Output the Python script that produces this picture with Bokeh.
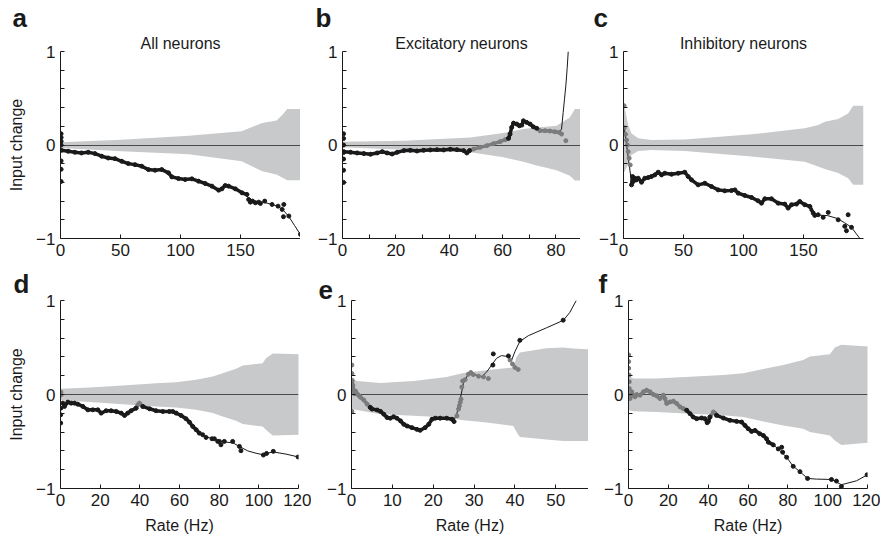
import math
from bokeh.plotting import figure
from bokeh.models import Range1d, FixedTicker, Title
from bokeh.layouts import column, row
from bokeh.embed import file_html
from bokeh.resources import INLINE

FONT = "Liberation Sans"
BAND = "#c8c9cb"
BLACK = "#1a1a1a"
GRAY = "#7c7c7c"
ZERO = "#4a4a4a"
NAN = float("nan")

Y_MAJOR = [-1, 0, 1]
Y_MINOR = [-0.8, -0.6, -0.4, -0.2, 0.2, 0.4, 0.6, 0.8]

# ---------------- panel a : All neurons ----------------
A_BAND_X = [0, 51, 107, 151, 157, 168, 180, 185, 189, 200]
A_BAND_HI = [0.03, 0.057, 0.1, 0.146, 0.18, 0.234, 0.263, 0.323, 0.384, 0.384]
A_BAND_LO = [-0.032, -0.067, -0.1, -0.174, -0.21, -0.28, -0.316, -0.35, -0.376, -0.376]
A_BLACK_X = [0.8, 6.4, 12, 17.5, 23.1, 28.7, 34.3, 39.8, 45.4, 51, 56.5, 62.1, 67.7, 73.3, 78.8,
             84.4, 90, 92.8, 98.3, 103.9, 109.5, 115, 120.6, 126.2, 131.8, 134.5, 137.3, 140.1,
             145.7, 151.3, 155.4]
A_BLACK_Y = [-0.057, -0.067, -0.078, -0.085, -0.078, -0.092, -0.12, -0.139, -0.146, -0.174, -0.199,
             -0.21, -0.227, -0.263, -0.27, -0.263, -0.298, -0.341, -0.359, -0.369, -0.362, -0.387,
             -0.412, -0.44, -0.483, -0.469, -0.433, -0.44, -0.469, -0.512, -0.529]
A_GRAY_X = []
A_GRAY_Y = []
A_DOT_X = [0.5, 0.5, 0.5, 0.5, 0.5, 0.5, 0.5, 156.8, 158.2, 160, 162.4, 165.2, 166.6, 170.2, 176.3,
           181.3, 184.7, 186.1, 185.8, 190.3, 200]
A_DOT_Y = [0.12, 0.08, 0.04, 0.0, -0.17, -0.26, -0.39, -0.583, -0.611, -0.6, -0.618, -0.611, -0.625,
           -0.6, -0.636, -0.654, -0.689, -0.636, -0.767, -0.76, -0.956]
A_GDOT_X = []
A_GDOT_Y = []
A_FIT_X = [155, 160, 165, 170, 176, 181, 185, 190, 195, 200]
A_FIT_Y = [-0.55, -0.59, -0.61, -0.615, -0.635, -0.655, -0.69, -0.76, -0.86, -0.96]

# ---------------- panel b : Excitatory neurons ----------------
B_BAND_X = [0, 23, 47.9, 60.3, 67.8, 72.8, 80.2, 85.2, 87.1, 89.5]
B_BAND_HI = [0.036, 0.046, 0.08, 0.128, 0.17, 0.188, 0.206, 0.295, 0.384, 0.384]
B_BAND_LO = [-0.025, -0.05, -0.078, -0.13, -0.178, -0.22, -0.27, -0.33, -0.38, -0.38]
B_BLACK_X = [0.5, 3, 5.5, 8, 10.5, 13, 14.9, 16.7, 18.6, 20.5, 23, 25.4, 27.9, 30.4, 32.9, 35.4,
             37.9, 40.4, 42.9, 45.4, 46.6, 47.6, NAN,
             62.2, 62.8, 63.4, 64.1, 65.3, 66.3, 67.2, 67.8, 69, 70.3, 71.5, 72.8]
B_BLACK_Y = [-0.071, -0.078, -0.085, -0.092, -0.099, -0.085, -0.071, -0.085, -0.096, -0.078, -0.06,
             -0.057, -0.064, -0.057, -0.053, -0.05, -0.053, -0.046, -0.05, -0.06, -0.085, -0.06, NAN,
             0.071, 0.117, 0.188, 0.234, 0.224, 0.206, 0.213, 0.259, 0.242, 0.224, 0.195, 0.178]
B_GRAY_X = [47.6, 49.1, 51.6, 54.1, 56.6, 59.1, 61, 62.2, NAN, 74, 75.9, 77.7, 79.6, 81.2]
B_GRAY_Y = [-0.06, -0.043, -0.025, -0.007, 0.014, 0.036, 0.057, 0.071, NAN, 0.153, 0.153, 0.149,
            0.142, 0.135]
B_DOT_X = [0.4, 0.4, 0.4, 0.4, 0.4, 0.4, 0.4]
B_DOT_Y = [0.12, 0.07, 0.0, -0.08, -0.15, -0.27, -0.4]
B_GDOT_X = [82.1, 83.7]
B_GDOT_Y = [0.117, 0.046]
B_FIT_X = [72.8, 76, 79.6, 81.2, 82.1, 82.7, 83.2, 83.7, 84.2, 84.6]
B_FIT_Y = [0.178, 0.155, 0.142, 0.135, 0.17, 0.348, 0.49, 0.632, 0.82, 1.0]

# ---------------- panel c : Inhibitory neurons ----------------
C_BAND_X = [0, 1.1, 3.9, 6.7, 12.2, 23.3, 51.1, 106.7, 151.1, 162.2, 167.8, 178.9, 187.2, 191.4, 200]
C_BAND_HI = [0.44, 0.39, 0.21, 0.124, 0.071, 0.053, 0.06, 0.114, 0.178, 0.213, 0.249, 0.277, 0.337,
             0.42, 0.42]
C_BAND_LO = [-0.3, -0.28, -0.2, -0.107, -0.064, -0.053, -0.064, -0.124, -0.178, -0.23, -0.256, -0.3,
             -0.355, -0.426, -0.426]
C_BLACK_X = [6.7, 7.5, 8.1, 9.4, 10.8, 12.2, 15, 17.8, 20.6, 23.3, 26.1, 28.9, 31.7, 34.4, 40, 45.6,
             51.1, 53.9, 56.7, 62.2, 67.8, 73.3, 78.9, 84.4, 90, 92.8, 95.6, 101.1, 106.7, 112.2, 115,
             117.8, 123.3, 128.9, 134.4, 137.2, 140, 144.2, 146.9, 151.1, 155.3, 158.1]
C_BLACK_Y = [-0.426, -0.337, -0.391, -0.355, -0.373, -0.355, -0.398, -0.355, -0.348, -0.337, -0.32,
             -0.291, -0.32, -0.302, -0.313, -0.302, -0.291, -0.337, -0.373, -0.426, -0.409, -0.444,
             -0.48, -0.49, -0.487, -0.48, -0.515, -0.54, -0.561, -0.597, -0.622, -0.575, -0.575,
             -0.622, -0.632, -0.675, -0.639, -0.632, -0.604, -0.639, -0.657, -0.728]
C_GRAY_X = []
C_GRAY_Y = []
C_DOT_X = [159.4, 162.2, 166.4, 170.6, 178.9, 184.4, 185.8, 187.2, 190]
C_DOT_Y = [-0.753, -0.746, -0.774, -0.721, -0.8, -0.87, -0.917, -0.746, -0.881]
C_GDOT_X = [0.5, 0.6, 1.7, 2.5, 3.3, 3.9, 4.7, 5.6]
C_GDOT_Y = [0.42, 0.185, 0.114, 0.053, 0.0, -0.071, -0.142, -0.213]
C_FIT_X = [0.5, 6.7, NAN, 155, 162, 170, 178, 184, 190, 194, 197]
C_FIT_Y = [0.2, -0.4, NAN, -0.7, -0.75, -0.755, -0.785, -0.83, -0.88, -0.95, -1.0]

# ---------------- panel d ----------------
D_BAND_X = [0, 14.6, 31.4, 48.2, 58.3, 68.4, 76.8, 81.8, 88.5, 91.9, 101.9, 103.6, 107, 120.4]
D_BAND_HI = [0.06, 0.074, 0.096, 0.12, 0.131, 0.156, 0.191, 0.227, 0.273, 0.308, 0.333, 0.386,
             0.435, 0.428]
D_BAND_LO = [-0.06, -0.081, -0.103, -0.127, -0.138, -0.163, -0.198, -0.234, -0.28, -0.315, -0.34,
             -0.375, -0.435, -0.428]
D_BLACK_X = [1.2, 2, 3.7, 5.4, 7.1, 8.7, 11.3, 13.8, 16.3, 18.8, 20.5, 23, 25.5, 28.1, 30.6, 32.3,
             33.9, 35.6, 38.1, NAN, 41.5, 44.9, 48.2, 51.6, 54.9, 56.6, 58.3, 60.8, 63.3, 65, 66.7,
             68.4, 70]
D_BLACK_Y = [-0.092, -0.127, -0.081, -0.092, -0.092, -0.103, -0.127, -0.163, -0.163, -0.163, -0.198,
             -0.173, -0.173, -0.181, -0.198, -0.223, -0.198, -0.173, -0.145, NAN, -0.127, -0.152,
             -0.173, -0.181, -0.181, -0.181, -0.198, -0.223, -0.258, -0.294, -0.34, -0.375, -0.411]
D_GRAY_X = [38.1, 39.0, 39.8, 41.5]
D_GRAY_Y = [-0.145, -0.11, -0.092, -0.127]
D_DOT_X = [0.2, 0.1, 0.1, 71.7, 73.4, 76.4, 77.6, 79.3, 80.1, 80.9, 82.6, 86.8, 90.2, 91, 102.3,
           103.9, 107.3, 119.8]
D_DOT_Y = [-0.145, -0.216, -0.304, -0.428, -0.457, -0.471, -0.471, -0.499, -0.499, -0.535, -0.499,
           -0.499, -0.552, -0.598, -0.644, -0.627, -0.605, -0.665]
D_GDOT_X = [0.2, 0.3]
D_GDOT_Y = [0.025, -0.004]
D_FIT_X = [70, 73.4, 76.8, 80.1, 83, 87, 90, 94.4, 98.6, 102, 107, 113.7, 120]
D_FIT_Y = [-0.411, -0.45, -0.47, -0.495, -0.505, -0.515, -0.55, -0.6, -0.625, -0.64, -0.61, -0.634,
           -0.665]

# ---------------- panel e ----------------
E_BAND_X = [0, 1.4, 7.1, 15.2, 23.3, 27.4, 33.1, 39.6, 40.4, 41.2, 47.7, 51.8, 54.2, 58]
E_BAND_HI = [0.17, 0.144, 0.122, 0.144, 0.187, 0.23, 0.259, 0.288, 0.4, 0.446, 0.493, 0.5, 0.49, 0.482]
E_BAND_LO = [-0.155, -0.165, -0.209, -0.227, -0.245, -0.273, -0.299, -0.335, -0.4, -0.453, -0.478,
             -0.496, -0.496, -0.496]
E_BLACK_X = [4.6, 5, 6.3, 7.1, 7.9, 8.7, 9.5, 10.3, 11.1, 12, 12.8, 13.6, 14.8, 16, 16.8, 18, 18.9,
             19.7, 20.5, 21.7, 23.3, 24.6, 25.1]
E_BLACK_Y = [-0.137, -0.155, -0.165, -0.18, -0.209, -0.245, -0.252, -0.237, -0.252, -0.281, -0.317,
             -0.335, -0.353, -0.371, -0.381, -0.353, -0.317, -0.263, -0.252, -0.252, -0.252, -0.263,
             -0.288]
E_GRAY_X = [0.16, 0.33, 0.57, 0.73, 0.98, 1.4, 1.8, 2.2, 3, 3.8, 4.6]
E_GRAY_Y = [0.151, 0.097, 0.043, 0.007, 0.036, 0.007, -0.011, -0.029, -0.058, -0.101, -0.137]
E_DOT_X = [34.6, 34.7, 38.4, 41.2, 51.8]
E_DOT_Y = [0.313, 0.432, 0.41, 0.576, 0.791]
E_GDOT_X = [0.1, 0.1, 0.1, 25.8, 26.2, 26.4, 26.6, 26.8, 27, 27.2, 27.8, 28.6, 29.2, 29.8, 31.1,
            32.3, 33.5, 38.8, 39.4, 40, 40.8]
E_GDOT_Y = [0.313, 0.223, -0.18, -0.227, -0.155, -0.12, -0.083, -0.05, 0.079, 0.144, 0.158, 0.216,
            0.234, 0.212, 0.194, 0.187, 0.169, 0.367, 0.324, 0.288, 0.266]
E_FIT_X = [25.1, 25.8, 26.6, 27.4, 28.6, 30.2, 31.9, 33.1, 34.3, 35.5, 36.7, 38.4, 39.2, 40, 41.2,
           43.3, 47.7, 51.8, 53.4, 55]
E_FIT_Y = [-0.27, -0.2, -0.05, 0.12, 0.22, 0.21, 0.19, 0.241, 0.313, 0.385, 0.414, 0.403, 0.367,
           0.457, 0.565, 0.626, 0.709, 0.788, 0.871, 1.0]

# ---------------- panel f ----------------
F_BAND_X = [0, 2.4, 14.1, 30.9, 47.6, 57.6, 67.7, 77.7, 87.7, 91.1, 101.1, 103.6, 106.9, 120.3]
F_BAND_HI = [0.2, 0.171, 0.171, 0.189, 0.207, 0.225, 0.271, 0.314, 0.368, 0.404, 0.429, 0.5, 0.529,
             0.511]
F_BAND_LO = [-0.168, -0.179, -0.186, -0.204, -0.221, -0.239, -0.286, -0.329, -0.364, -0.4, -0.436,
             -0.489, -0.536, -0.514]
F_BLACK_X = [29.2, 30.9, 32.5, 34.2, 36.7, 38.4, 39.5, 40.1, 40.9, NAN, 44.2, 47.6, 50.9, 54.3, 56.8,
             58.5, 60.1, 61.8, 63.5, 65.9, 67.7, 69.3, 70.2, 72.7]
F_BLACK_Y = [-0.168, -0.204, -0.239, -0.257, -0.25, -0.257, -0.3, -0.286, -0.24, NAN, -0.221, -0.25,
             -0.275, -0.286, -0.293, -0.329, -0.364, -0.393, -0.382, -0.418, -0.436, -0.471, -0.507,
             -0.536]
F_GRAY_X = [0.8, 1.1, 1.6, 2.4, 3.3, 4.1, 5.8, 7.5, 9.1, 10.8, 12.5, 14.1, 15.8, 17.5, 18.3, 19.2,
            20.8, 22.5, 24.2, 25.9, 27.5, 29.2, NAN, 40.9, 42.6, 43.4, 44.2]
F_GRAY_Y = [-0.043, -0.007, 0.029, -0.007, -0.025, 0.0, -0.007, 0.029, 0.046, 0.029, 0.0, -0.014,
            -0.043, -0.007, -0.043, -0.096, -0.079, -0.071, -0.096, -0.132, -0.15, -0.168, NAN,
            -0.24, -0.186, -0.2, -0.221]
F_DOT_X = [75.2, 76.9, 77.4, 79.4, 82.7, 86.1, 89.9, 101.9, 104.4, 106.9, 119.8]
F_DOT_Y = [-0.579, -0.561, -0.614, -0.668, -0.764, -0.821, -0.893, -0.904, -0.921, -0.979, -0.854]
F_GDOT_X = [0.1, 0.1, 0.1, 0.3, 0.4, 0.4]
F_GDOT_Y = [0.421, 0.35, 0.279, 0.207, 0.136, 0.064]
F_FIT_X = [72.7, 75.2, 79.4, 82.7, 86.1, 89.9, 94.4, 101.9, 106.9, 114.5, 120]
F_FIT_Y = [-0.536, -0.579, -0.668, -0.764, -0.821, -0.893, -0.9, -0.904, -0.96, -0.918, -0.854]


def make_panel(width, height, xmax, bl, br, bt, bb, xticks, xminor):
    p = figure(width=width, height=height, x_range=Range1d(0, xmax), y_range=Range1d(-1, 1),
               output_backend="svg", toolbar_location=None, title=None,
               min_border_left=bl, min_border_right=br, min_border_top=bt, min_border_bottom=bb)
    p.outline_line_color = None
    p.xgrid.visible = False
    p.ygrid.visible = False
    p.background_fill_color = "white"
    p.border_fill_color = "white"
    for ax, tk, mn in ((p.xaxis[0], xticks, xminor), (p.yaxis[0], Y_MAJOR, Y_MINOR)):
        ax.ticker = FixedTicker(ticks=tk, minor_ticks=mn)
        ax.major_tick_in = 4
        ax.major_tick_out = 0
        ax.minor_tick_in = 4
        ax.minor_tick_out = 0
        ax.axis_line_color = BLACK
        ax.major_tick_line_color = BLACK
        ax.minor_tick_line_color = BLACK
        ax.axis_line_width = 1
        ax.major_label_text_font = FONT
        ax.major_label_text_font_size = "17px"
        ax.major_label_text_color = BLACK
        ax.axis_label_text_font = FONT
        ax.axis_label_text_font_size = "16px"
        ax.axis_label_text_font_style = "normal"
        ax.axis_label_text_color = BLACK
    p.yaxis[0].major_label_overrides = {-1: "\u22121", 0: "0", 1: "1"}
    p.xaxis[0].major_label_standoff = 5
    p.yaxis[0].major_label_standoff = 5
    p.xaxis[0].axis_label_standoff = 8
    p.yaxis[0].axis_label_standoff = 8
    return p


def draw(p, bx, blo, bhi, bkx, bky, gyx, gyy, dx, dy, gdx, gdy, fx, fy):
    p.varea(x=bx, y1=blo, y2=bhi, fill_color=BAND)
    p.hspan(y=[0], line_color=ZERO, line_width=1.2)
    p.line(fx, fy, line_color=BLACK, line_width=1)
    if gyx:
        p.line(gyx, gyy, line_color=GRAY, line_width=3.5)
        p.scatter(gyx, gyy, size=4, color=GRAY)
    if gdx:
        p.scatter(gdx, gdy, size=4, color=GRAY)
    if bkx:
        p.line(bkx, bky, line_color=BLACK, line_width=3.5)
        p.scatter(bkx, bky, size=4, color=BLACK)
    if dx:
        p.scatter(dx, dy, size=4, color=BLACK)


def add_title(p, text, size, align, offset=0, bold=False, standoff=0, line_height=1.0):
    p.add_layout(Title(text=text, align=align, offset=offset, text_font=FONT, text_font_size=size,
                       text_font_style="bold" if bold else "normal", text_color=BLACK,
                       standoff=standoff, text_line_height=line_height), "above")


TOP_H, BOT_H = 261, 277

pa = make_panel(300, TOP_H, 200, 60, 0, 51, 23, [0, 50, 100, 150], [])
pb = make_panel(280, TOP_H, 89.2, 42, 0, 51, 23, [0, 20, 40, 60, 80], [10, 30, 50, 70])
pc = make_panel(296, TOP_H, 200, 43, 13, 51, 23, [0, 50, 100, 150], [])
pd = make_panel(311, BOT_H, 120, 60, 13, 39, 50, [0, 20, 40, 60, 80, 100, 120], [])
pe = make_panel(277, BOT_H, 58, 40, 0, 39, 50, [0, 10, 20, 30, 40, 50], [])
pf = make_panel(292, BOT_H, 120, 40, 13, 39, 50, [0, 20, 40, 60, 80, 100, 120], [])

draw(pa, A_BAND_X, A_BAND_LO, A_BAND_HI, A_BLACK_X, A_BLACK_Y, A_GRAY_X, A_GRAY_Y,
     A_DOT_X, A_DOT_Y, A_GDOT_X, A_GDOT_Y, A_FIT_X, A_FIT_Y)
draw(pb, B_BAND_X, B_BAND_LO, B_BAND_HI, B_BLACK_X, B_BLACK_Y, B_GRAY_X, B_GRAY_Y,
     B_DOT_X, B_DOT_Y, B_GDOT_X, B_GDOT_Y, B_FIT_X, B_FIT_Y)
draw(pc, C_BAND_X, C_BAND_LO, C_BAND_HI, C_BLACK_X, C_BLACK_Y, C_GRAY_X, C_GRAY_Y,
     C_DOT_X, C_DOT_Y, C_GDOT_X, C_GDOT_Y, C_FIT_X, C_FIT_Y)
draw(pd, D_BAND_X, D_BAND_LO, D_BAND_HI, D_BLACK_X, D_BLACK_Y, D_GRAY_X, D_GRAY_Y,
     D_DOT_X, D_DOT_Y, D_GDOT_X, D_GDOT_Y, D_FIT_X, D_FIT_Y)
draw(pe, E_BAND_X, E_BAND_LO, E_BAND_HI, E_BLACK_X, E_BLACK_Y, E_GRAY_X, E_GRAY_Y,
     E_DOT_X, E_DOT_Y, E_GDOT_X, E_GDOT_Y, E_FIT_X, E_FIT_Y)
draw(pf, F_BAND_X, F_BAND_LO, F_BAND_HI, F_BLACK_X, F_BLACK_Y, F_GRAY_X, F_GRAY_Y,
     F_DOT_X, F_DOT_Y, F_GDOT_X, F_GDOT_Y, F_FIT_X, F_FIT_Y)

# panel titles (closest to the frame first), then panel letters
add_title(pa, "All neurons", "16px", "center", line_height=0.75)
add_title(pb, "Excitatory neurons", "16px", "center", line_height=0.75)
add_title(pc, "Inhibitory neurons", "16px", "center", line_height=0.75)
add_title(pa, "a", "26px", "left", offset=-48, bold=True)
add_title(pb, "b", "26px", "left", offset=-27, bold=True)
add_title(pc, "c", "26px", "left", offset=-30, bold=True)
add_title(pd, "d", "26px", "left", offset=-47, bold=True, standoff=3)
add_title(pe, "e", "26px", "left", offset=-33, bold=True, standoff=3)
add_title(pf, "f", "26px", "left", offset=-30, bold=True, standoff=3)

# axis titles
pa.yaxis[0].axis_label = "Input change"
pd.yaxis[0].axis_label = "Input change"
for p in (pd, pe, pf):
    p.xaxis[0].axis_label = "Rate (Hz)"

layout = column(row(pa, pb, pc), row(pd, pe, pf))
open("out.html", "w").write(file_html(layout, INLINE))
